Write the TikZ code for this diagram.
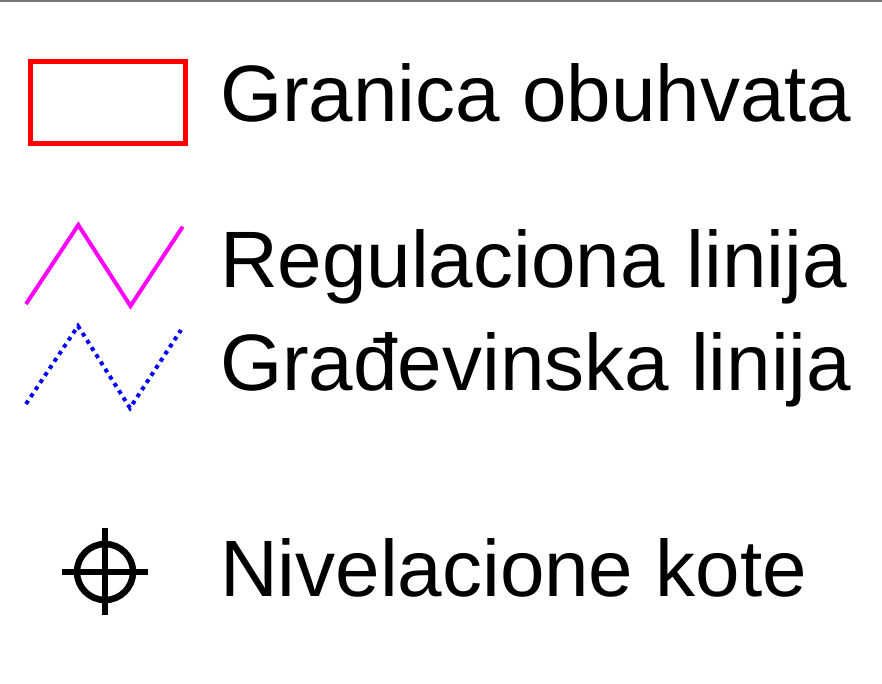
\documentclass[tikz,border=0pt]{standalone}
\usepackage{fontspec}
\setmainfont{Liberation Sans}
\begin{document}
\begin{tikzpicture}[x=1pt,y=-1pt,
  lbl/.style={anchor=base west,inner sep=0pt,outer sep=0pt,font=\fontsize{80}{96}\selectfont},
  boundary/.style={draw={rgb,255:red,255;green,0;blue,0},line width=5pt},
  regline/.style={draw={rgb,255:red,255;green,0;blue,255},line width=4pt},
  gradline/.style={draw={rgb,255:red,0;green,0;blue,255},line width=4pt,dash pattern=on 4pt off 4.5pt},
  crossmark/.style={draw=black,line width=6.5pt}]
\useasboundingbox (0,0) rectangle (882,683);
\draw[draw={rgb,255:red,119;green,119;blue,119},line width=1.5pt] (0,0.75) -- (882,0.75);
% legend symbols
\draw[boundary] (30.5,61.7) rectangle (185.5,143.5);
\draw[regline] (26,304) -- (78.3,225) -- (130.5,306) -- (182.7,226.7);
\draw[gradline] (26,404) -- (78,326) -- (130,408) -- (181,330);
\coordinate (c) at (105,572);
\draw[crossmark] (c) circle[radius=28];
\draw[crossmark] (62,572) -- (148,572);
\draw[crossmark] (105,528) -- (105,615);
% labels
\node[lbl] (t1) at (220,121) {Granica obuhvata};
\node[lbl] (t2) at (220,287) {Regulaciona linija};
\node[lbl] (t3) at (220,390) {Građevinska linija};
\node[lbl] (t4) at (220,596) {Nivelacione kote};
\end{tikzpicture}
\end{document}
